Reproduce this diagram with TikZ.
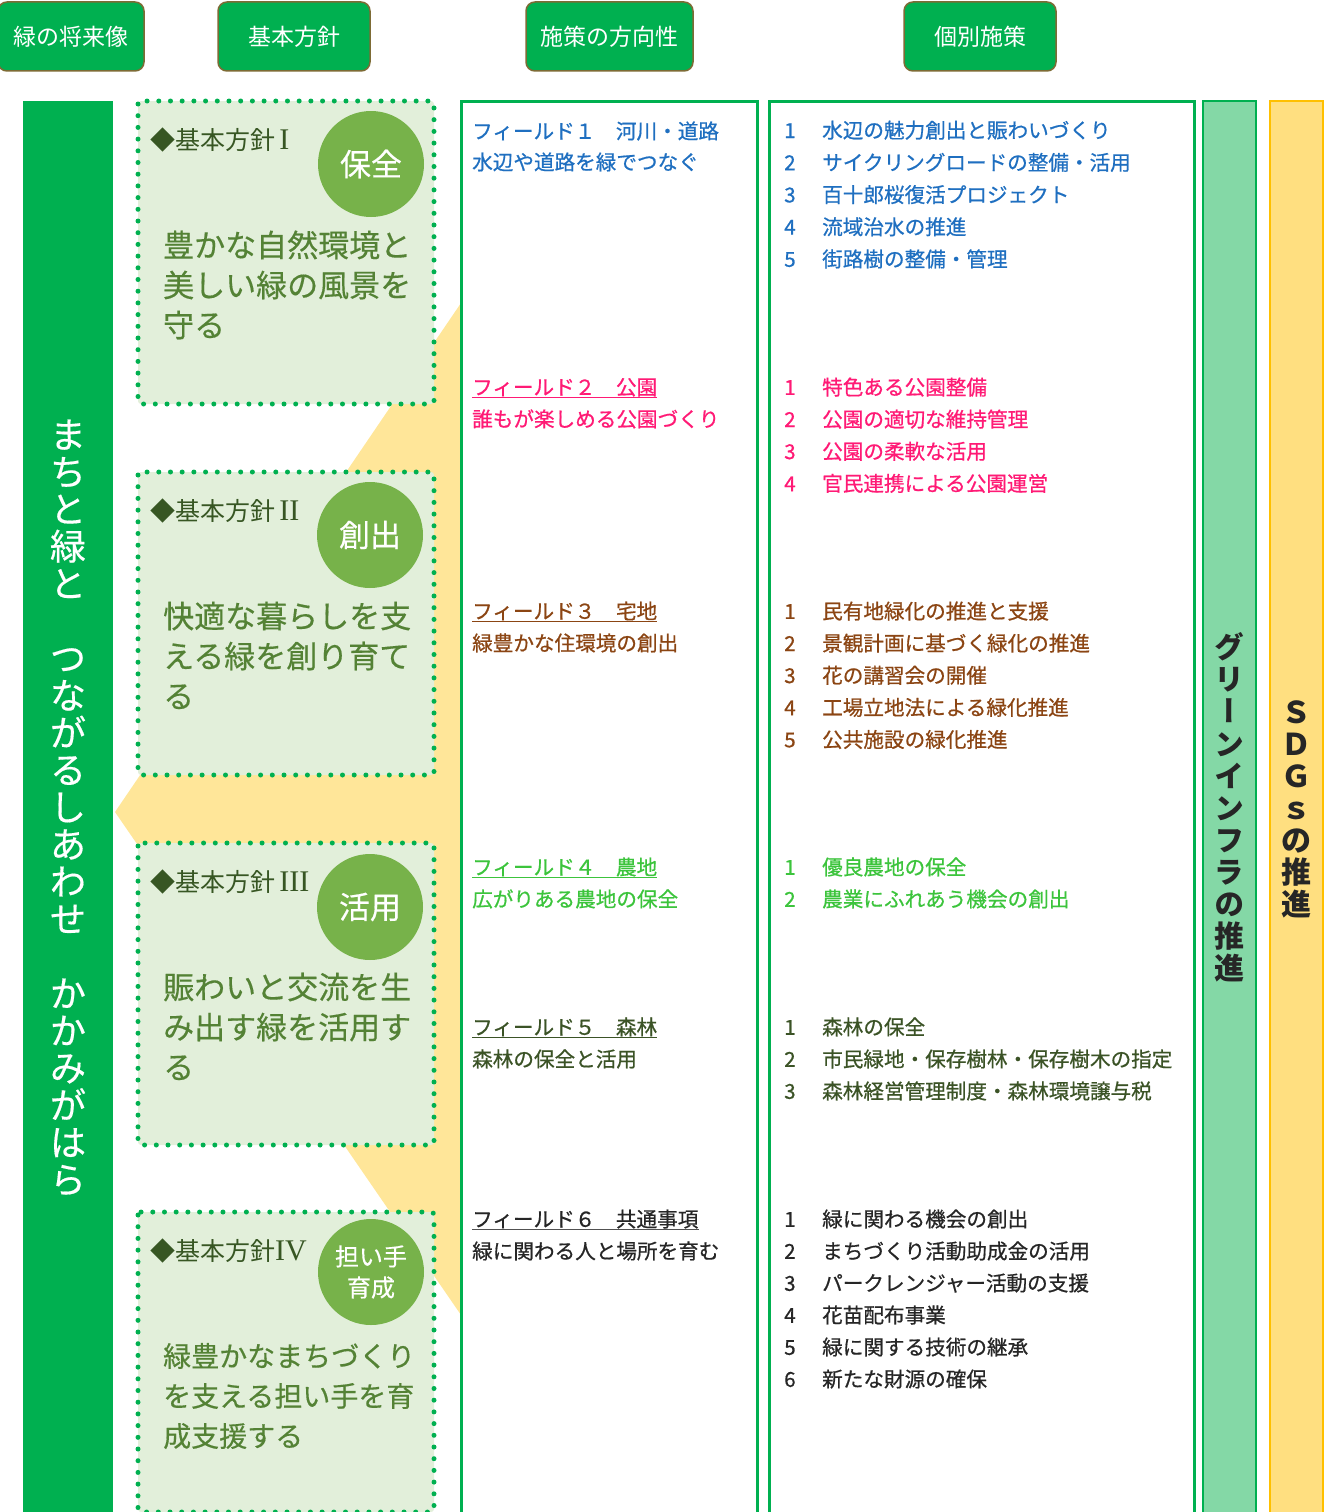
\documentclass[tikz,border=0pt]{standalone}
\usepackage{fontspec}
\setmainfont{Noto Sans CJK JP}
\newfontfamily\jpm[FakeBold=0.7]{Noto Sans CJK JP}
\newfontfamily\jpl[FakeBold=0.4]{Noto Sans CJK JP}
\newfontfamily\jpv[RawFeature=+vert]{Noto Sans CJK JP}
\newfontfamily\rmn{Liberation Serif}
\definecolor{gG}{HTML}{00B050}
\definecolor{hdrB}{HTML}{7D6B35}
\definecolor{boxF}{HTML}{E2EFDA}
\definecolor{circG}{HTML}{77B24A}
\definecolor{bodyG}{HTML}{548235}
\definecolor{titleG}{HTML}{375623}
\definecolor{yelBg}{HTML}{FFE699}
\definecolor{giF}{HTML}{84D8A6}
\definecolor{sdgF}{HTML}{FFDF80}
\definecolor{sdgB}{HTML}{FFC000}
\definecolor{fa}{HTML}{1F6FC0}
\definecolor{fb}{HTML}{FF1A75}
\definecolor{fc}{HTML}{8B4513}
\definecolor{fd}{HTML}{3CC43C}
\definecolor{fe}{HTML}{3B5326}
\definecolor{ff}{HTML}{262626}
\definecolor{vtxt}{HTML}{262626}
\tikzset{
  hdr/.style={draw=hdrB, fill=gG, line width=1.5pt, rounded corners=9pt, minimum height=69pt, inner sep=0pt, text=white, font=\fontsize{23}{23}\selectfont},
  circ/.style={circle, fill=circG, minimum size=106pt, inner sep=0pt, text=white, font=\jpl\fontsize{31}{33}\selectfont, align=center},
  circs/.style={circle, fill=circG, minimum size=106pt, inner sep=0pt, text=white, font=\jpl\fontsize{24}{31}\selectfont, align=center},
  pbox/.style={fill=boxF, draw=gG, line width=5pt, line cap=round, dash pattern=on 0pt off 11.7pt, rounded corners=3pt},
  ptitle/.style={anchor=west, inner sep=0pt, text=titleG, font=\fontsize{25}{25}\selectfont, text height=22pt, text depth=3pt},
  pbody/.style={anchor=west, inner sep=0pt, text=bodyG, font=\jpl\fontsize{31}{31}\selectfont, text height=27.3pt, text depth=3.7pt},
  pbodys/.style={pbody, font=\jpl\fontsize{28}{28}\selectfont, text height=24.6pt, text depth=3.4pt},
  ftext/.style={anchor=west, inner sep=0pt, font=\jpm\fontsize{20.6}{21}\selectfont, text height=18.1pt, text depth=2.5pt},
  uline/.style={line width=1.2pt},
  colbox/.style={draw=gG, line width=3pt},
}
\newcommand\rn[1]{{\rmn\fontsize{30}{30}\selectfont #1}}
\begin{document}
\begin{tikzpicture}[x=1pt,y=-1pt]
\useasboundingbox (0,0) rectangle (1324,1512);
% header buttons
\node[hdr, minimum width=146pt] (h1) at (71,36.5) {緑の将来像};
\node[hdr, minimum width=152pt] (h2) at (294,36.5) {基本方針};
\node[hdr, minimum width=167pt] (h3) at (609.5,36.5) {施策の方向性};
\node[hdr, minimum width=152pt] (h4) at (980,36.5) {個別施策};
% yellow background wedge
\fill[yelBg] (115,812) -- (461,303) -- (461,1315) -- cycle;
% vision bar
\fill[gG] (23,101) rectangle (113,1530);
\node[inner sep=0pt, text=white, align=center, font=\jpl\fontsize{36}{37.25}\selectfont] (vis) at (68,807.5)
 {ま\\ち\\と\\緑\\と\\　\\つ\\な\\が\\る\\し\\あ\\わ\\せ\\　\\か\\か\\み\\が\\は\\ら};
% policy boxes
\draw[pbox] (138,101) rectangle (434,404);
\draw[pbox] (138,472) rectangle (434,775);
\draw[pbox] (138,843) rectangle (434,1145);
\draw[pbox] (138,1212) rectangle (434,1512);
\node[circ] (c1) at (371,164) {保全};
\node[circ] (c2) at (370,535) {創出};
\node[circ] (c3) at (370,907) {活用};
\node[circs] (c4) at (371,1272) {担い手\\育成};
\node[ptitle] (p1) at (150,140) {◆基本方針\,\rn{I}};
\node[ptitle] (p2) at (150,511) {◆基本方針\,\rn{II}};
\node[ptitle] (p3) at (150,882) {◆基本方針\,\rn{III}};
\node[ptitle] (p4) at (150,1251) {◆基本方針\rn{IV}};
\node[pbody] (b1a) at (163,245) {豊かな自然環境と};
\node[pbody] (b1b) at (163,285) {美しい緑の風景を};
\node[pbody] (b1c) at (163,325) {守る};
\node[pbody] (b2a) at (163,616) {快適な暮らしを支};
\node[pbody] (b2b) at (163,656) {える緑を創り育て};
\node[pbody] (b2c) at (163,696) {る};
\node[pbody] (b3a) at (163,987) {賑わいと交流を生};
\node[pbody] (b3b) at (163,1027) {み出す緑を活用す};
\node[pbody] (b3c) at (163,1067) {る};
\node[pbodys] (b4a) at (163,1356) {緑豊かなまちづくり};
\node[pbodys] (b4b) at (163,1396) {を支える担い手を育};
\node[pbodys] (b4c) at (163,1436) {成支援する};
% columns
\draw[colbox] (461,1530) -- (461,101) -- (757,101) -- (757,1530);
\draw[colbox] (769,1530) -- (769,101) -- (1194,101) -- (1194,1530);
\draw[fill=giF, draw=gG, line width=2pt] (1203,1530) -- (1203,101) -- (1256,101) -- (1256,1530);
\draw[fill=sdgF, draw=sdgB, line width=2pt] (1270,1530) -- (1270,101) -- (1323,101) -- (1323,1530);
\node[inner sep=0pt, text=vtxt, align=center, font=\jpv\bfseries\fontsize{30}{32.1}\selectfont] (gi) at (1229,807.5)
 {グ\\リ\\ー\\ン\\イ\\ン\\フ\\ラ\\の\\推\\進};
\node[inner sep=0pt, text=vtxt, align=center, font=\bfseries\fontsize{30}{32}\selectfont] (sdg) at (1296,809)
 {Ｓ\\Ｄ\\Ｇ\\ｓ\\の\\推\\進};
% fields
\node[ftext, text=fa] (t1) at (472,131) {フィールド１　河川・道路};
\node[ftext, text=fa] (s1) at (472,162) {水辺や道路を緑でつなぐ};
\node[ftext, text=fb] (t2) at (472,387) {フィールド２　公園};
\node[ftext, text=fb] (s2) at (472,419) {誰もが楽しめる公園づくり};
\node[ftext, text=fc] (t3) at (472,611) {フィールド３　宅地};
\node[ftext, text=fc] (s3) at (472,643) {緑豊かな住環境の創出};
\node[ftext, text=fd] (t4) at (472,867) {フィールド４　農地};
\node[ftext, text=fd] (s4) at (472,899) {広がりある農地の保全};
\node[ftext, text=fe] (t5) at (472,1027) {フィールド５　森林};
\node[ftext, text=fe] (s5) at (472,1059) {森林の保全と活用};
\node[ftext, text=ff] (t6) at (472,1219) {フィールド６　共通事項};
\node[ftext, text=ff] (s6) at (472,1251) {緑に関わる人と場所を育む};
\draw[uline, fb] (t2.south west) -- (t2.south east);
\draw[uline, fc] (t3.south west) -- (t3.south east);
\draw[uline, fd] (t4.south west) -- (t4.south east);
\draw[uline, fe] (t5.south west) -- (t5.south east);
\draw[uline, ff!80] (t6.south west) -- (t6.south east);
% items
\foreach \t [count=\i] in {水辺の魅力創出と賑わいづくり,サイクリングロードの整備・活用,百十郎桜復活プロジェクト,流域治水の推進,街路樹の整備・管理}{
  \node[ftext, text=fa] (ia\i n) at (784,{98+32.2*\i}) {\i};
  \node[ftext, text=fa] (ia\i) at (822,{98+32.2*\i}) {\t};}
\foreach \t [count=\i] in {特色ある公園整備,公園の適切な維持管理,公園の柔軟な活用,官民連携による公園運営}{
  \node[ftext, text=fb] (ib\i n) at (784,{355+32.1*\i}) {\i};
  \node[ftext, text=fb] (ib\i) at (822,{355+32.1*\i}) {\t};}
\foreach \t [count=\i] in {民有地緑化の推進と支援,景観計画に基づく緑化の推進,花の講習会の開催,工場立地法による緑化推進,公共施設の緑化推進}{
  \node[ftext, text=fc] (ic\i n) at (784,{579+32.1*\i}) {\i};
  \node[ftext, text=fc] (ic\i) at (822,{579+32.1*\i}) {\t};}
\foreach \t [count=\i] in {優良農地の保全,農業にふれあう機会の創出}{
  \node[ftext, text=fd] (id\i n) at (784,{835+32*\i}) {\i};
  \node[ftext, text=fd] (id\i) at (822,{835+32*\i}) {\t};}
\foreach \t [count=\i] in {森林の保全,市民緑地・保存樹林・保存樹木の指定,森林経営管理制度・森林環境譲与税}{
  \node[ftext, text=fe] (ie\i n) at (784,{995+32*\i}) {\i};
  \node[ftext, text=fe] (ie\i) at (822,{995+32*\i}) {\t};}
\foreach \t [count=\i] in {緑に関わる機会の創出,まちづくり活動助成金の活用,パークレンジャー活動の支援,花苗配布事業,緑に関する技術の継承,新たな財源の確保}{
  \node[ftext, text=ff] (if\i n) at (784,{1187+32*\i}) {\i};
  \node[ftext, text=ff] (if\i) at (822,{1187+32*\i}) {\t};}
\end{tikzpicture}
\end{document}
